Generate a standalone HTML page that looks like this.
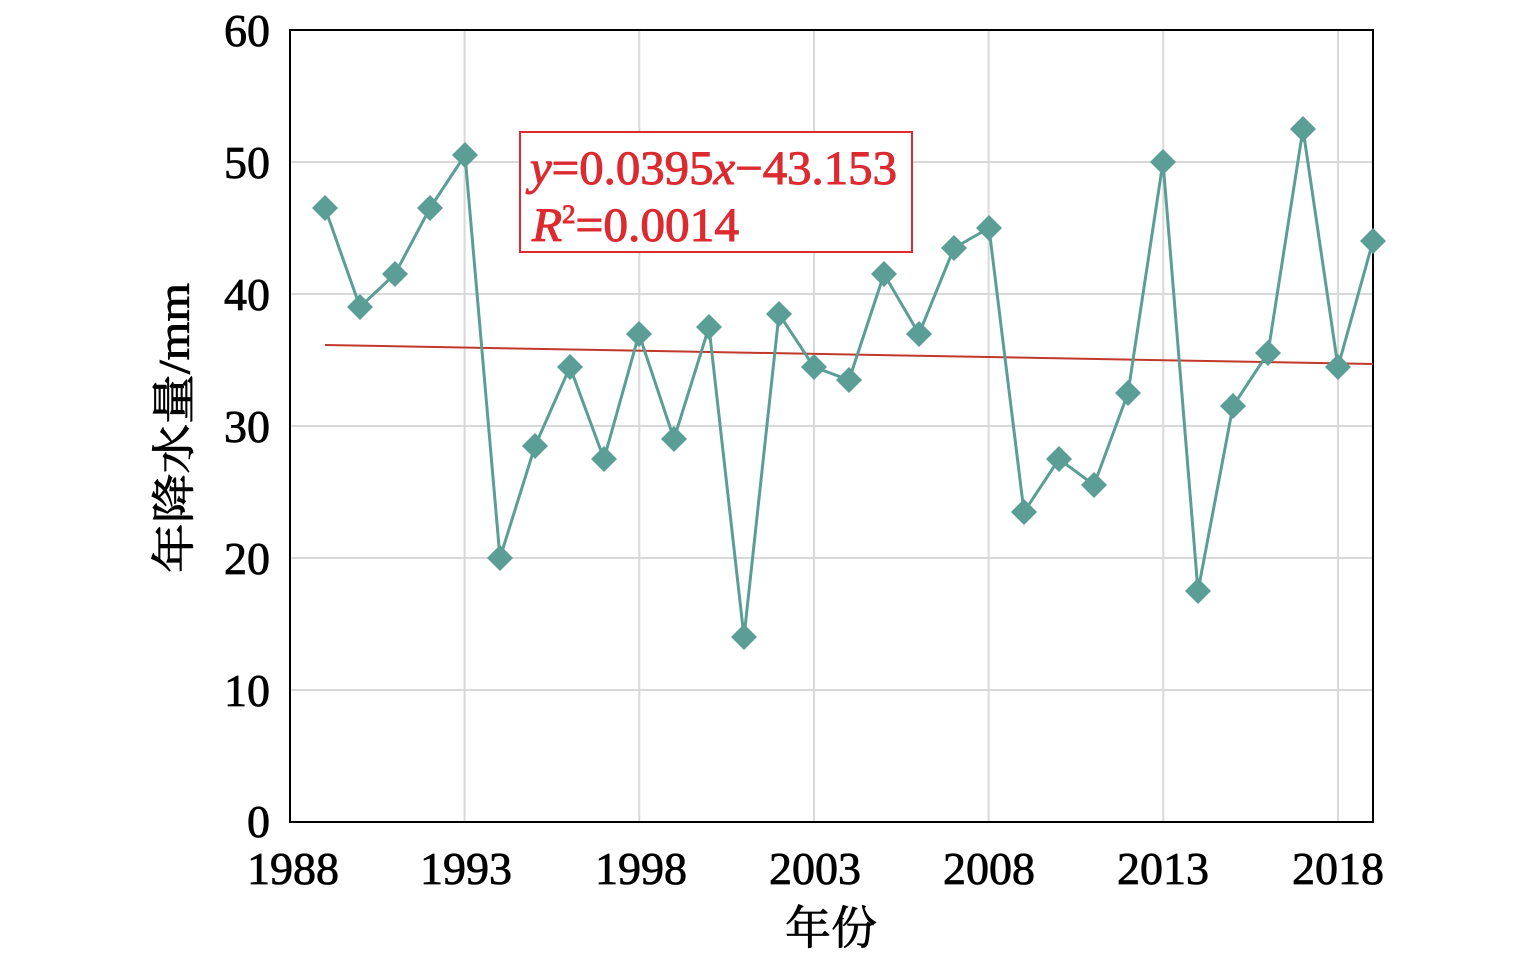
<!DOCTYPE html>
<html><head><meta charset="utf-8"><style>body{margin:0;background:#fff}</style></head><body>
<svg width="1535" height="957" xmlns="http://www.w3.org/2000/svg" font-family="Liberation Serif, Noto Serif CJK SC, serif">
<g stroke="#d9d9d9" stroke-width="2">
<line x1="464.6" y1="30" x2="464.6" y2="822"/><line x1="639.3" y1="30" x2="639.3" y2="822"/><line x1="814" y1="30" x2="814" y2="822"/><line x1="988.6" y1="30" x2="988.6" y2="822"/><line x1="1163.3" y1="30" x2="1163.3" y2="822"/><line x1="1338" y1="30" x2="1338" y2="822"/>
<line x1="290" y1="162" x2="1373" y2="162"/><line x1="290" y1="294" x2="1373" y2="294"/><line x1="290" y1="426" x2="1373" y2="426"/><line x1="290" y1="558" x2="1373" y2="558"/><line x1="290" y1="690" x2="1373" y2="690"/>
</g>
<rect x="290" y="30" width="1083" height="792" fill="none" stroke="#000" stroke-width="2"/>
<line x1="325" y1="345" x2="1373" y2="364" stroke="#c0392b" stroke-width="2"/>
<polyline fill="none" stroke="#5b9e96" stroke-width="3" points="325,208 360,307 395,274 430,208 465,155 500,558 535,446 570,367 604,459 639,334 674,439 709,327 744,637 779,314 814,367 849,380 884,274 919,334 954,248 989,228 1024,512 1059,459 1094,485 1128,393 1163,162 1198,591 1233,406 1268,353 1303,129 1338,367 1373,241"/>
<g fill="#5b9e96">
<path d="M0,-13L13,0L0,13L-13,0Z" transform="translate(325,208)"/>
<path d="M0,-13L13,0L0,13L-13,0Z" transform="translate(360,307)"/><path d="M0,-13L13,0L0,13L-13,0Z" transform="translate(395,274)"/><path d="M0,-13L13,0L0,13L-13,0Z" transform="translate(430,208)"/><path d="M0,-13L13,0L0,13L-13,0Z" transform="translate(465,155)"/><path d="M0,-13L13,0L0,13L-13,0Z" transform="translate(500,558)"/><path d="M0,-13L13,0L0,13L-13,0Z" transform="translate(535,446)"/><path d="M0,-13L13,0L0,13L-13,0Z" transform="translate(570,367)"/><path d="M0,-13L13,0L0,13L-13,0Z" transform="translate(604,459)"/><path d="M0,-13L13,0L0,13L-13,0Z" transform="translate(639,334)"/><path d="M0,-13L13,0L0,13L-13,0Z" transform="translate(674,439)"/><path d="M0,-13L13,0L0,13L-13,0Z" transform="translate(709,327)"/><path d="M0,-13L13,0L0,13L-13,0Z" transform="translate(744,637)"/><path d="M0,-13L13,0L0,13L-13,0Z" transform="translate(779,314)"/><path d="M0,-13L13,0L0,13L-13,0Z" transform="translate(814,367)"/><path d="M0,-13L13,0L0,13L-13,0Z" transform="translate(849,380)"/><path d="M0,-13L13,0L0,13L-13,0Z" transform="translate(884,274)"/><path d="M0,-13L13,0L0,13L-13,0Z" transform="translate(919,334)"/><path d="M0,-13L13,0L0,13L-13,0Z" transform="translate(954,248)"/><path d="M0,-13L13,0L0,13L-13,0Z" transform="translate(989,228)"/><path d="M0,-13L13,0L0,13L-13,0Z" transform="translate(1024,512)"/><path d="M0,-13L13,0L0,13L-13,0Z" transform="translate(1059,459)"/><path d="M0,-13L13,0L0,13L-13,0Z" transform="translate(1094,485)"/><path d="M0,-13L13,0L0,13L-13,0Z" transform="translate(1128,393)"/><path d="M0,-13L13,0L0,13L-13,0Z" transform="translate(1163,162)"/><path d="M0,-13L13,0L0,13L-13,0Z" transform="translate(1198,591)"/><path d="M0,-13L13,0L0,13L-13,0Z" transform="translate(1233,406)"/><path d="M0,-13L13,0L0,13L-13,0Z" transform="translate(1268,353)"/><path d="M0,-13L13,0L0,13L-13,0Z" transform="translate(1303,129)"/><path d="M0,-13L13,0L0,13L-13,0Z" transform="translate(1338,367)"/><path d="M0,-13L13,0L0,13L-13,0Z" transform="translate(1373,241)"/>
</g>
<rect x="520" y="132" width="392" height="120" fill="#fff" stroke="#dc2b30" stroke-width="2"/>
<g fill="#dc2b30" stroke="#dc2b30" stroke-width="1">
<text x="530" y="184" font-size="48" textLength="367" lengthAdjust="spacingAndGlyphs"><tspan font-style="italic">y</tspan>=0.0395<tspan font-style="italic">x</tspan>−43.153</text>
<text x="532" y="241" font-size="48" textLength="207" lengthAdjust="spacingAndGlyphs"><tspan font-style="italic">R</tspan><tspan font-size="26" dy="-18">2</tspan><tspan dy="18">=0.0014</tspan></text>
</g>
<g font-size="46" text-anchor="end" fill="#000" stroke="#000" stroke-width="0.8">
<text x="270" y="46">60</text><text x="270" y="178">50</text><text x="270" y="310">40</text><text x="270" y="442">30</text><text x="270" y="574">20</text><text x="270" y="706">10</text><text x="270" y="837">0</text>
</g>
<g font-size="46" text-anchor="middle" fill="#000" stroke="#000" stroke-width="0.8">
<text x="293" y="884">1988</text><text x="466" y="884">1993</text><text x="641" y="884">1998</text><text x="815" y="884">2003</text><text x="989" y="884">2008</text><text x="1163" y="884">2013</text><text x="1338" y="884">2018</text>
<text x="831" y="944">年份</text>
</g>
<text transform="translate(189,428) rotate(-90)" font-size="44" text-anchor="middle" stroke="#000" stroke-width="0.8" textLength="290" lengthAdjust="spacingAndGlyphs">年降水量/mm</text>
</svg>
</body></html>
